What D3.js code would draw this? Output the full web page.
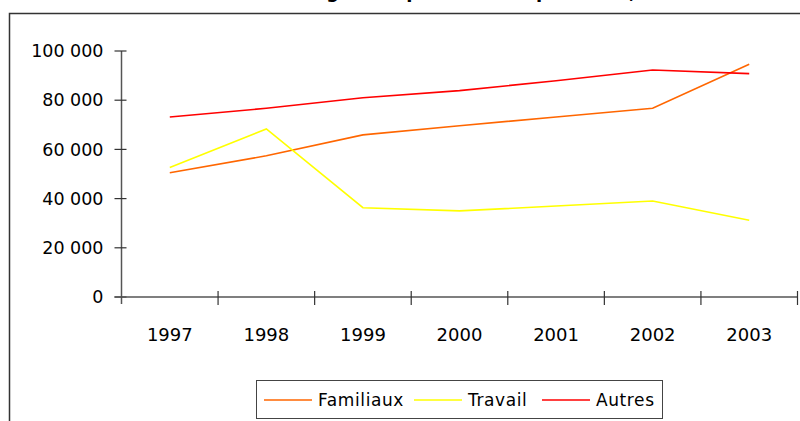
<!DOCTYPE html>
<html>
<head>
<meta charset="utf-8">
<script src="https://cdn.jsdelivr.net/npm/d3@7"></script>
<style>
  body { margin: 0; background: #fff; overflow: hidden; }
  svg { display: block; font-family: "DejaVu Sans", sans-serif; }
</style>
</head>
<body>
<div id="chart"></div>
<script>
const years = ["1997", "1998", "1999", "2000", "2001", "2002", "2003"];
const familiaux = [50500, 57400, 65900, 69600, 73200, 76700, 94600];
const travail = [52600, 68300, 36300, 35000, 37000, 39000, 31200];
const autres = [73200, 76700, 81000, 83900, 87900, 92300, 90800];
const yTicks = [0, 20000, 40000, 60000, 80000, 100000];
const seriesNames = ["Familiaux", "Travail", "Autres"];
const seriesColors = ["#ff6600", "#ffff00", "#ff0000"];
const titleText = "Évolution des flux d'immigration permanente par motif, 1997-2003";

const w = 800, h = 421;
const margin = { left: 121.5, right: 2.5, top: 51, bottom: 124 };

const svg = d3.select("#chart").append("svg")
  .attr("width", w)
  .attr("height", h);

// title, cut off above the frame like in the original
svg.append("text")
  .attr("x", 410)
  .attr("y", -2)
  .attr("text-anchor", "middle")
  .attr("font-weight", "bold")
  .attr("font-size", 18)
  .text(titleText);

// outer frame
svg.append("rect")
  .attr("x", 9.5)
  .attr("y", 13.5)
  .attr("width", 820)
  .attr("height", 440)
  .attr("fill", "none")
  .attr("stroke", "#333")
  .attr("stroke-width", 1.5);

const xScale = d3.scaleBand()
  .domain(years)
  .range([margin.left, w - margin.right]);

const yScale = d3.scaleLinear()
  .domain([0, 100000])
  .range([h - margin.bottom, margin.top]);

const fmt = v => d3.format(",")(v).replace(/,/g, " ");

// y axis
const leftAxis = d3.axisLeft(yScale)
  .tickValues(yTicks)
  .tickSize(0)
  .tickPadding(18)
  .tickFormat(fmt);

const gy = svg.append("g")
  .attr("transform", `translate(${margin.left}, 0)`)
  .call(leftAxis);
gy.select(".domain").remove();
gy.selectAll("text")
  .attr("font-size", 17.5)
  .attr("fill", "#000")
  .attr("font-family", "DejaVu Sans, sans-serif");

gy.append("line")
  .attr("x1", 0).attr("x2", 0)
  .attr("y1", yScale(100000)).attr("y2", yScale(0) + 7)
  .attr("stroke", "#555").attr("stroke-width", 1.5);

gy.selectAll(".tickmark")
  .data(yTicks)
  .join("line")
  .attr("class", "tickmark")
  .attr("x1", -7).attr("x2", 5)
  .attr("y1", d => yScale(d)).attr("y2", d => yScale(d))
  .attr("stroke", "#333").attr("stroke-width", 1.2);

// x axis
const bottomAxis = d3.axisBottom(xScale)
  .tickSize(0)
  .tickPadding(31);

const gx = svg.append("g")
  .attr("transform", `translate(0, ${yScale(0)})`)
  .call(bottomAxis);
gx.select(".domain").remove();
gx.selectAll("text")
  .attr("font-size", 18)
  .attr("fill", "#000")
  .attr("font-family", "DejaVu Sans, sans-serif");

gx.append("line")
  .attr("x1", margin.left - 7).attr("x2", w - margin.right)
  .attr("y1", 0).attr("y2", 0)
  .attr("stroke", "#555").attr("stroke-width", 1.5);

const boundaries = years.map(y => xScale(y)).concat([xScale(years[years.length - 1]) + xScale.bandwidth()]);
gx.selectAll(".tickmark")
  .data(boundaries.slice(1))
  .join("line")
  .attr("class", "tickmark")
  .attr("x1", d => d).attr("x2", d => d)
  .attr("y1", -6).attr("y2", 8)
  .attr("stroke", "#333").attr("stroke-width", 1.2);

// lines
const line = d3.line()
  .x((d, i) => xScale(years[i]) + xScale.bandwidth() / 2)
  .y(d => yScale(d));

[familiaux, travail, autres].forEach((data, i) => {
  svg.append("path")
    .attr("d", line(data))
    .attr("fill", "none")
    .attr("stroke", seriesColors[i])
    .attr("stroke-width", 1.6);
});

// legend
const legend = svg.append("g");
legend.append("rect")
  .attr("x", 256.5).attr("y", 380.5)
  .attr("width", 406).attr("height", 38)
  .attr("fill", "#fff")
  .attr("stroke", "#444").attr("stroke-width", 1);

const legendX = [264, 414, 542];
seriesNames.forEach((name, i) => {
  legend.append("line")
    .attr("x1", legendX[i]).attr("x2", legendX[i] + 48)
    .attr("y1", 400).attr("y2", 400)
    .attr("stroke", seriesColors[i]).attr("stroke-width", 1.6);
  legend.append("text")
    .attr("x", legendX[i] + 54)
    .attr("y", 400)
    .attr("dy", "0.35em")
    .attr("font-size", 17)
    .attr("letter-spacing", 0.6)
    .text(name);
});
</script>
</body>
</html>
